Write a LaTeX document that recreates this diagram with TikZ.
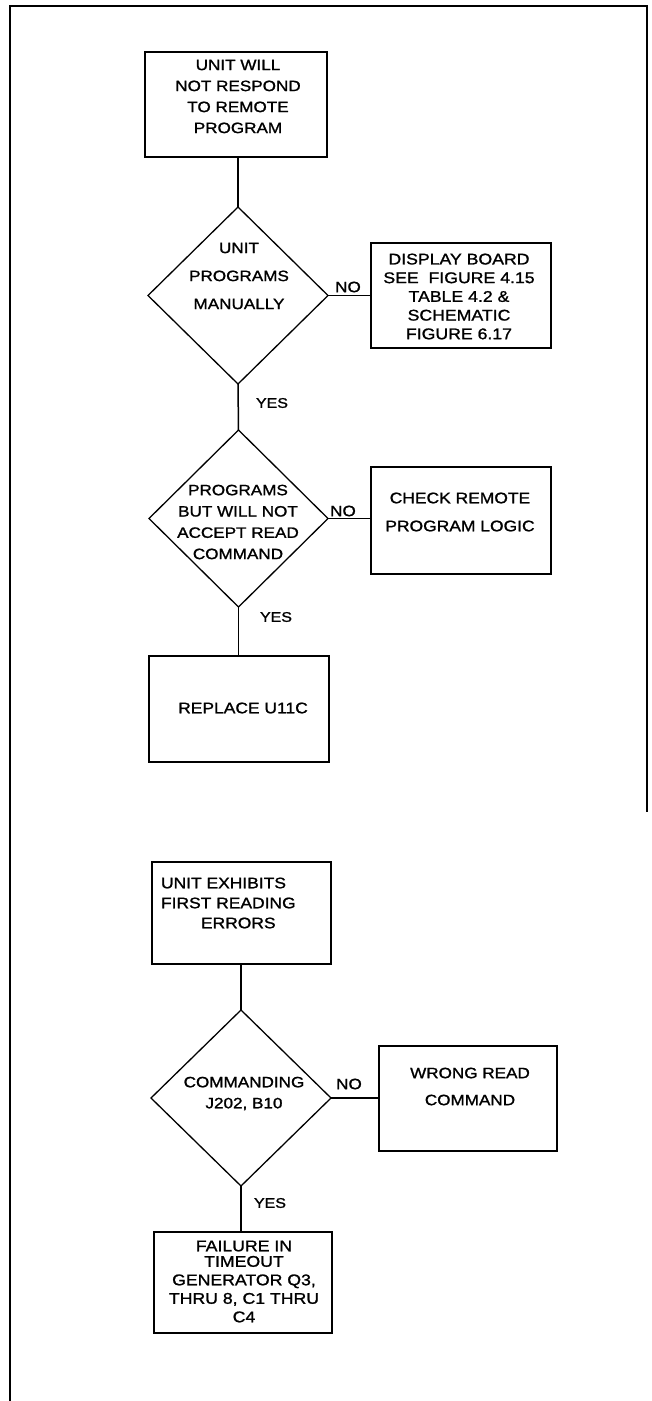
\documentclass[tikz,border=0pt]{standalone}
\usepackage{fontspec}
\usetikzlibrary{shapes.geometric}
\newfontfamily\fc[FakeStretch=1.14,FakeBold=1.3]{Liberation Sans}
\newcommand{\fsz}[2]{\fc\fontsize{#1}{#2}\selectfont}
\begin{document}
\begin{tikzpicture}[x=1pt,y=-1pt,
  every node/.style={inner sep=0pt, outer sep=0pt},
  boxnode/.style={draw, line width=1.5pt, rectangle},
  decnode/.style={draw, line width=1.3pt, diamond},
  txt/.style={align=center},
  lbl/.style={font=\fsz{14}{16}},
  conn/.style={line width=1.5pt},
  frame/.style={line width=1.8pt}
]
\useasboundingbox (0,0) rectangle (651,1401);
% frame
\draw[frame] (10,1401) -- (10,6) -- (647,6) -- (647,812);

% first chart
\node[boxnode, minimum width=182pt, minimum height=105pt] (b1) at (236,104.5) {};
\node[txt, font=\fsz{15}{21}] (t1) at (238,96.5) {UNIT WILL\\NOT RESPOND\\TO REMOTE\\PROGRAM};

\node[decnode, minimum width=180pt, minimum height=177pt] (d1) at (238,295.5) {};
\node[txt, font=\fsz{15}{28}] (td1) at (239,276) {UNIT\\PROGRAMS\\MANUALLY};

\node[boxnode, minimum width=180pt, minimum height=105pt] (disp) at (461,295.5) {};
\node[txt, font=\fsz{15.5}{18.7}] (tdisp) at (459,296.5) {DISPLAY\ BOARD\\SEE\ \ FIGURE 4.15\\TABLE 4.2 \&\\SCHEMATIC\\FIGURE 6.17};

\node[decnode, minimum width=179pt, minimum height=177pt] (d2) at (238.5,518.5) {};
\node[txt, font=\fsz{15}{21.3}] (td2) at (238,522) {PROGRAMS\\BUT WILL NOT\\ACCEPT READ\\COMMAND};

\node[boxnode, minimum width=180pt, minimum height=107pt] (chk) at (461,520.5) {};
\node[txt, font=\fsz{15.3}{28}] (tchk) at (460,512) {CHECK REMOTE\\PROGRAM LOGIC};

\node[boxnode, minimum width=180pt, minimum height=106pt] (rep) at (239,709) {};
\node[txt, font=\fsz{15.3}{18}] (trep) at (243,708) {REPLACE U11C};

\draw[conn] (d1.north) -- (d1.north |- b1.south);
\draw[conn] (d1.east) -- (d1.east -| disp.west);
\draw[conn] (d1.south) -- (d2.north);
\draw[conn] (d2.east) -- (d2.east -| chk.west);
\draw[conn] (d2.south) -- (d2.south |- rep.north);

\node[font=\fsz{15}{16}] (no1) at (348,287) {NO};
\node[lbl] (yes1) at (272,403) {YES};
\node[font=\fsz{15}{16}] (no2) at (343,511) {NO};
\node[lbl] (yes2) at (276,617) {YES};

% second chart
\node[boxnode, minimum width=179pt, minimum height=102pt] (b4) at (241.5,913) {};
\node[align=left, anchor=west, font=\fsz{15.3}{20}] (tb4) at (161,903) {UNIT EXHIBITS\\FIRST READING\\\hspace*{40pt}ERRORS};

\node[decnode, minimum width=180pt, minimum height=176pt] (d3) at (241,1098) {};
\node[txt, font=\fsz{15}{21}] (td3) at (244,1093.5) {COMMANDING\\J202, B10};

\node[boxnode, minimum width=178pt, minimum height=105pt] (wrong) at (468,1098.5) {};
\node[txt, font=\fsz{15}{27}] (twrong) at (470,1086.5) {WRONG READ\\COMMAND};

\node[boxnode, minimum width=178pt, minimum height=101pt] (fail) at (243,1282.5) {};
\node[txt, font=\fsz{15.5}{18.5}] (tfail) at (244,1281.5) {FAILURE IN\\[-3pt]TIMEOUT\\GENERATOR Q3,\\THRU 8, C1 THRU\\C4};

\draw[conn] (d3.north) -- (d3.north |- b4.south);
\draw[conn] (d3.east) -- (d3.east -| wrong.west);
\draw[conn] (d3.south) -- (d3.south |- fail.north);

\node[font=\fsz{15}{16}] (no3) at (349,1084) {NO};
\node[lbl] (yes3) at (270,1203) {YES};
\end{tikzpicture}
\end{document}
